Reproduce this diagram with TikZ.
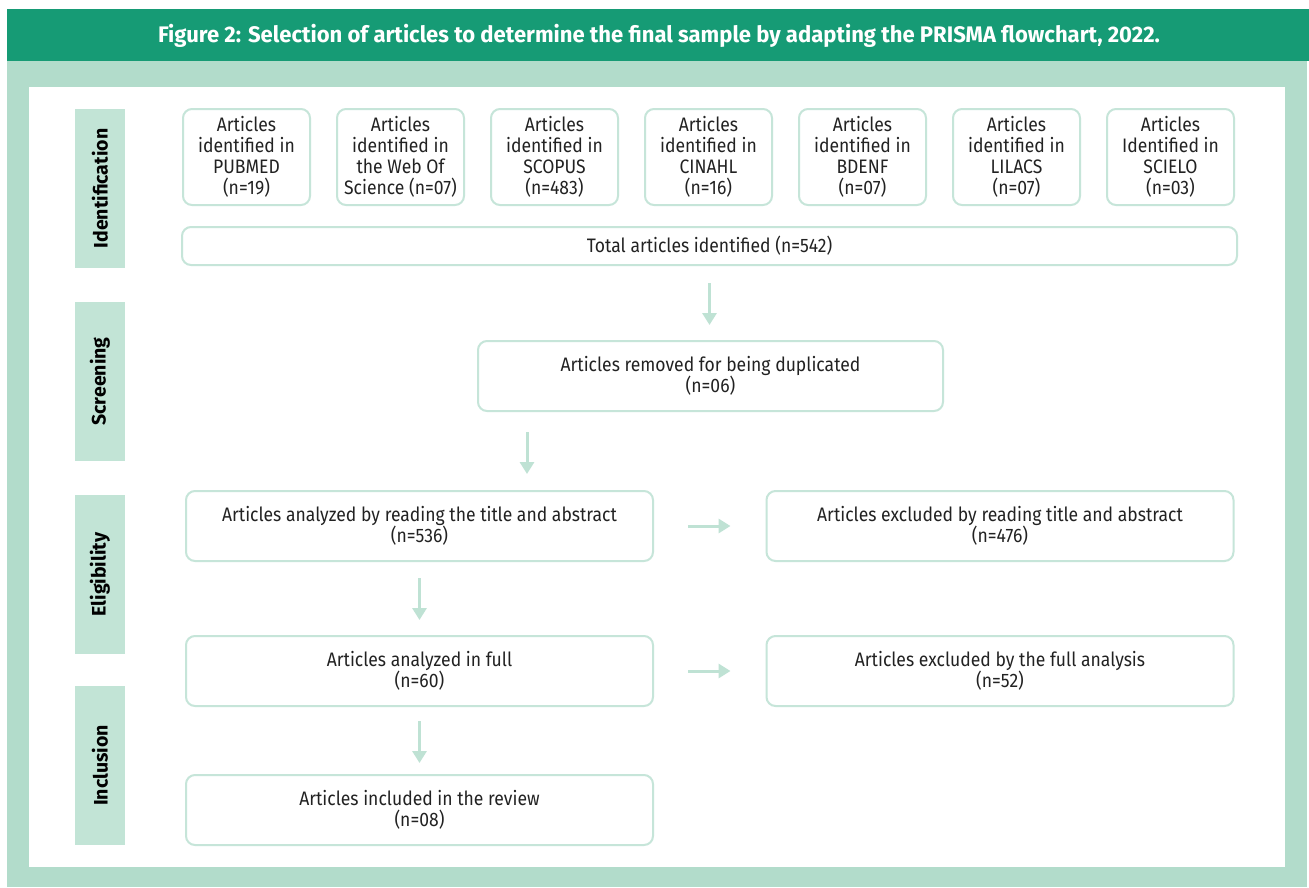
\documentclass[tikz,border=0pt]{standalone}
\usepackage{fontspec}
\setmainfont{Fira Sans}
\newfontfamily\hdrfont[FakeStretch=0.98]{Fira Sans}
\newfontfamily\bodyfont[FakeStretch=0.9]{Fira Sans}
\usetikzlibrary{arrows.meta}
\definecolor{hdrgreen}{HTML}{169B75}
\definecolor{framegreen}{HTML}{B2DCCB}
\definecolor{labelgreen}{HTML}{C2E4D6}
\definecolor{boxline}{HTML}{C6E5D9}
\definecolor{arrowgreen}{HTML}{BFE2D4}
\definecolor{txt}{HTML}{222222}
\tikzset{
  box/.style={draw=boxline, line width=2pt, rounded corners=9pt, fill=white, align=center,
    text=txt, font=\bodyfont\fontsize{19.5}{21}\selectfont, inner sep=0pt},
  phase/.style={fill=labelgreen, minimum width=50pt, minimum height=159pt, inner sep=0pt},
  phasetext/.style={rotate=90, font=\fontsize{19.5}{22}\selectfont\bfseries, text=black},
  flow/.style={draw=arrowgreen, line width=3pt, -{Triangle[length=12pt,width=14pt]}}
}
\begin{document}
\begin{tikzpicture}[x=1pt,y=-1pt]
\useasboundingbox (0,0) rectangle (1309,887);
% frame
\fill[framegreen] (7,61) rectangle (1307,887);
\fill[white] (29,87) rectangle (1285,867);
\node[fill=hdrgreen, minimum width=1302pt, minimum height=52pt, inner sep=0pt, anchor=north west] (hdr) at (7,9) {};
\node[text=white, font=\hdrfont\fontsize{22.5}{26}\selectfont\bfseries] (title) at (659,36)
  {Figure 2: Selection of articles to determine the final sample by adapting the PRISMA flowchart, 2022.};
% phase labels
\node[phase] (pid) at (100,188.5) {};
\node[phasetext] (tid) at (pid.center) {Identification};
\node[phase] (psc) at (100,381.5) {};
\node[phasetext] (tsc) at (psc.center) {Screening};
\node[phase] (pel) at (100,574.5) {};
\node[phasetext] (tel) at (pel.center) {Eligibility};
\node[phase] (pin) at (100,765.5) {};
\node[phasetext] (tin) at (pin.center) {Inclusion};
% source boxes
\tikzset{src/.style={box, minimum width=127pt, minimum height=96pt}}
\node[src] (s1) at (246.5,157) {Articles\\identified in\\PUBMED\\(n=19)};
\node[src] (s2) at (400.5,157) {Articles\\identified in\\the Web Of\\Science (n=07)};
\node[src] (s3) at (554.5,157) {Articles\\identified in\\SCOPUS\\(n=483)};
\node[src] (s4) at (708.5,157) {Articles\\identified in\\CINAHL\\(n=16)};
\node[src] (s5) at (862.5,157) {Articles\\identified in\\BDENF\\(n=07)};
\node[src] (s6) at (1016.5,157) {Articles\\identified in\\LILACS\\(n=07)};
\node[src] (s7) at (1170.5,157) {Articles\\Identified in\\SCIELO\\(n=03)};
\node[box, minimum width=1055pt, minimum height=38pt] (tot) at (709.5,246) {Total articles identified (n=542)};
\tikzset{wide/.style={box, minimum width=467pt, minimum height=70pt}}
\node[box, minimum width=465pt, minimum height=70pt] (dup) at (710.5,376) {Articles removed for being duplicated\\(n=06)};
\node[wide] (ana) at (419.5,526) {Articles analyzed by reading the title and abstract\\(n=536)};
\node[wide] (exa) at (1000,526) {Articles excluded by reading title and abstract\\(n=476)};
\node[wide] (full) at (419.5,671) {Articles analyzed in full\\(n=60)};
\node[wide] (exf) at (1000,671) {Articles excluded by the full analysis\\(n=52)};
\node[wide] (inc) at (419.5,810) {Articles included in the review\\(n=08)};
% arrows
\draw[flow, shorten <=17pt, shorten >=15pt] (tot.south) -- (tot.south |- dup.north);
\draw[flow, shorten <=20pt, shorten >=16pt] ([xshift=50pt]dup.south west) -- ([xshift=342pt]ana.north west);
\draw[flow, shorten <=34pt, shorten >=35pt] (ana.east) -- (exa.west);
\draw[flow, shorten <=34pt, shorten >=35pt] (full.east) -- (exf.west);
\draw[flow, shorten <=16pt, shorten >=15pt] (ana.south) -- (full.north);
\draw[flow, shorten <=14pt, shorten >=11pt] (full.south) -- (inc.north);
\end{tikzpicture}
\end{document}
